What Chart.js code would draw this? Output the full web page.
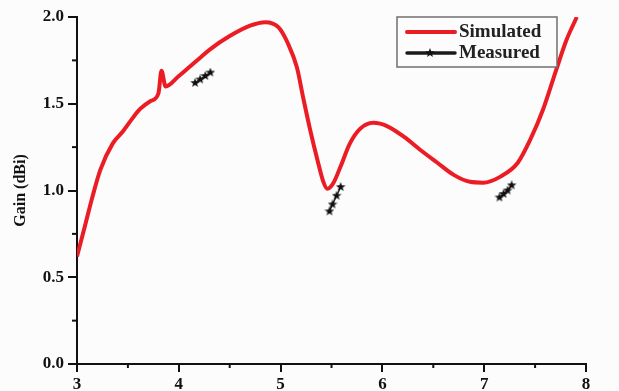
<!DOCTYPE html>
<html>
<head>
<meta charset="utf-8">
<script src="https://cdn.jsdelivr.net/npm/chart.js@4"></script>
<style>
  html, body { margin: 0; padding: 0; background: #fcfcfc; }
  #wrap { width: 619px; height: 391px; position: relative; }
</style>
</head>
<body>
<div id="wrap"><canvas id="gain"></canvas></div>
<script>
// Simulated gain vs frequency (GHz)
const simFreq = [3.00, 3.08, 3.15, 3.23, 3.35, 3.45, 3.55, 3.62, 3.72, 3.80, 3.83, 3.87,
  4.00, 4.11, 4.21, 4.31, 4.50, 4.70, 4.85, 4.98, 5.07, 5.16, 5.22, 5.29, 5.36, 5.42,
  5.46, 5.52, 5.59, 5.68, 5.78, 5.91, 6.05, 6.21, 6.37, 6.54, 6.70, 6.86, 6.99, 7.16,
  7.33, 7.45, 7.58, 7.71, 7.81, 7.91];
const simGain = [0.62, 0.80, 0.96, 1.12, 1.27, 1.34, 1.42, 1.47, 1.515, 1.56, 1.69, 1.60,
  1.66, 1.715, 1.765, 1.815, 1.89, 1.95, 1.97, 1.94, 1.85, 1.71, 1.54, 1.35, 1.18, 1.05,
  1.01, 1.045, 1.14, 1.27, 1.355, 1.39, 1.37, 1.31, 1.235, 1.16, 1.09, 1.05, 1.045, 1.08,
  1.16, 1.29, 1.47, 1.70, 1.87, 2.00];

// Measured points, three short sweeps (null breaks the line between them)
const measFreq = [4.16, 4.21, 4.26, 4.31, null, 5.48, 5.51, 5.55, 5.59, null, 7.15, 7.19, 7.23, 7.27];
const measGain = [1.62, 1.64, 1.66, 1.68, null, 0.88, 0.92, 0.97, 1.02, null, 0.96, 0.98, 1.00, 1.03];

const xTicks = [3, 4, 5, 6, 7, 8];
const yTicks = [0, 0.5, 1.0, 1.5, 2.0];

const RED = '#ec1c24';
const FONT = 'Liberation Serif, Times New Roman, serif';

// filled five-point star used as point marker
function makeStar(size) {
  const c = document.createElement('canvas');
  c.width = size; c.height = size;
  const g = c.getContext('2d');
  const cx = size / 2, cy = size / 2, ro = size / 2, ri = ro * 0.42;
  g.beginPath();
  for (let i = 0; i < 10; i++) {
    const r = i % 2 ? ri : ro;
    const a = -Math.PI / 2 + i * Math.PI / 5;
    g.lineTo(cx + r * Math.cos(a), cy + r * Math.sin(a));
  }
  g.closePath();
  g.fillStyle = '#111';
  g.fill();
  return c;
}
const star = makeStar(10);

const simData = simFreq.map((f, i) => ({ x: f, y: simGain[i] }));
const measData = measFreq.map((f, i) => ({ x: f, y: measGain[i] }));

// short minor ticks and the framed legend
const extras = {
  id: 'extras',
  afterDraw(chart) {
    const { ctx, chartArea: a, scales: { x, y } } = chart;
    ctx.save();
    ctx.strokeStyle = '#111';
    ctx.lineWidth = 2;
    for (let v = 3.5; v < 8; v += 1) {
      const px = x.getPixelForValue(v);
      ctx.beginPath(); ctx.moveTo(px, a.bottom); ctx.lineTo(px, a.bottom + 4); ctx.stroke();
    }
    for (let v = 0.25; v < 2; v += 0.5) {
      const py = y.getPixelForValue(v);
      ctx.beginPath(); ctx.moveTo(a.left, py); ctx.lineTo(a.left - 5, py); ctx.stroke();
    }

    // legend
    const lx = 397, ly = 17, lw = 160, lh = 50;
    ctx.fillStyle = '#fcfcfc';
    ctx.fillRect(lx, ly, lw, lh);
    ctx.strokeStyle = '#6f6f6f';
    ctx.lineWidth = 1.5;
    ctx.strokeRect(lx, ly, lw, lh);

    ctx.lineCap = 'round';
    ctx.strokeStyle = RED;
    ctx.lineWidth = 4;
    ctx.beginPath(); ctx.moveTo(407, 32); ctx.lineTo(455, 32); ctx.stroke();
    ctx.strokeStyle = '#1a1a1a';
    ctx.lineWidth = 3.5;
    ctx.beginPath(); ctx.moveTo(407, 53); ctx.lineTo(455, 53); ctx.stroke();
    ctx.drawImage(star, 425, 48);

    ctx.fillStyle = '#222';
    ctx.font = 'bold 19px ' + FONT;
    ctx.textBaseline = 'middle';
    ctx.textAlign = 'left';
    ctx.fillText('Simulated', 459, 32);
    ctx.fillText('Measured', 459, 53);
    ctx.restore();
  }
};

new Chart(document.getElementById('gain'), {
  type: 'line',
  data: {
    datasets: [
      {
        label: 'Simulated',
        data: simData,
        borderColor: RED,
        borderWidth: 4,
        pointRadius: 0,
        cubicInterpolationMode: 'monotone',
        fill: false,
      },
      {
        label: 'Measured',
        data: measData,
        borderColor: '#222',
        borderWidth: 1.5,
        pointStyle: star,
        pointRadius: 5,
        spanGaps: false,
        fill: false,
      },
    ],
  },
  options: {
    responsive: true,
    maintainAspectRatio: false,
    animation: false,
    layout: { padding: { top: 17, right: 33, left: 0, bottom: 0 } },
    plugins: { legend: { display: false }, tooltip: { enabled: false } },
    scales: {
      x: {
        type: 'linear',
        min: 3,
        max: 8,
        afterFit: s => { s.height = 27; },
        afterBuildTicks: s => { s.ticks = xTicks.map(v => ({ value: v })); },
        ticks: {
          color: '#111',
          font: { family: FONT, size: 17, weight: 'bold' },
          padding: 2,
          maxRotation: 0,
        },
        grid: { drawOnChartArea: false, tickLength: 8, color: '#111', lineWidth: 2 },
        border: { color: '#111', width: 2 },
      },
      y: {
        min: 0,
        max: 2,
        afterFit: s => { s.width = 77; },
        afterBuildTicks: s => { s.ticks = yTicks.map(v => ({ value: v })); },
        ticks: {
          color: '#111',
          font: { family: FONT, size: 17, weight: 'bold' },
          padding: 4,
          callback: v => v.toFixed(1),
        },
        grid: { drawOnChartArea: false, tickLength: 9, color: '#111', lineWidth: 2 },
        border: { color: '#111', width: 2 },
        title: {
          display: true,
          text: 'Gain (dBi)',
          color: '#111',
          font: { family: FONT, size: 16, weight: 'bold' },
          padding: { top: 11, bottom: 0 },
        },
      },
    },
  },
  plugins: [extras],
});
</script>
</body>
</html>
